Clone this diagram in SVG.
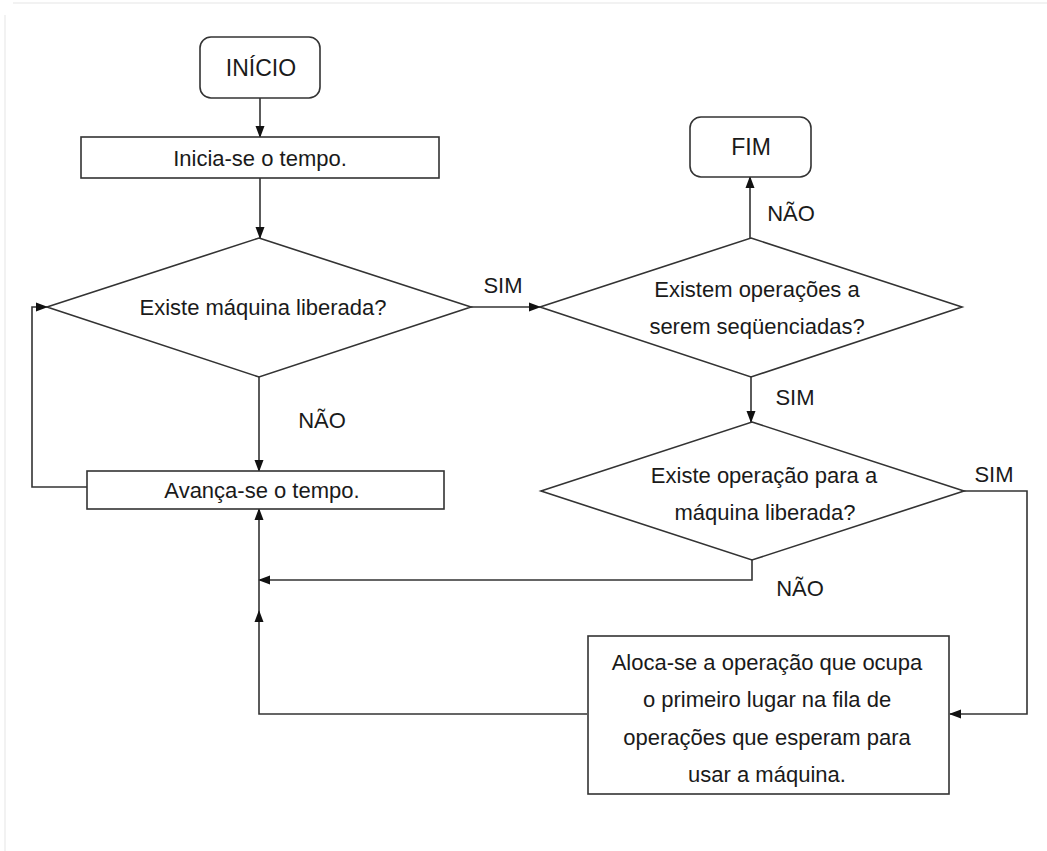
<svg xmlns="http://www.w3.org/2000/svg" width="1047" height="851" viewBox="0 0 1047 851">
<defs>
<marker id="arr" markerUnits="userSpaceOnUse" markerWidth="12" markerHeight="12" viewBox="0 0 12 12" refX="11" refY="6" orient="auto">
<path d="M0,1.5 L12,6 L0,10.5 Z" fill="#111"/>
</marker>
<style>
.shape{fill:#fff;stroke:#333;stroke-width:1.6}
.line{fill:none;stroke:#333;stroke-width:1.6}
.t{font-family:"Liberation Sans",Arial,sans-serif;font-size:22px;fill:#1a1a1a;text-anchor:middle;dominant-baseline:central}
.frame{stroke:#eeeeee;stroke-width:1.5;fill:none}
</style>
</defs>
<rect width="1047" height="851" fill="#fff"/>
<path class="frame" d="M13 3 H1047 M5 15 V851"/>

<g id="connectors">
<path class="line" d="M260 98 V137" marker-end="url(#arr)"/>
<path class="line" d="M260 178 V238" marker-end="url(#arr)"/>
<path class="line" d="M471 307 H540" marker-end="url(#arr)"/>
<text class="t" x="503" y="285">SIM</text>
<path class="line" d="M259 377 V471" marker-end="url(#arr)"/>
<text class="t" x="322" y="420">NÃO</text>
<path class="line" d="M87 487 H32 V307 H47" marker-end="url(#arr)"/>
<path class="line" d="M750 238 V177" marker-end="url(#arr)"/>
<text class="t" x="791" y="213">NÃO</text>
<path class="line" d="M751 377 V422" marker-end="url(#arr)"/>
<text class="t" x="795" y="397">SIM</text>
<path class="line" d="M752 560 V580 H259" marker-end="url(#arr)"/>
<text class="t" x="800" y="588">NÃO</text>
<path class="line" d="M964 491 H1027 V714 H950" marker-end="url(#arr)"/>
<text class="t" x="994" y="474">SIM</text>
<path class="line" d="M587 714 H259 V611" marker-end="url(#arr)"/>
<path class="line" d="M259 611 V509" marker-end="url(#arr)"/>
</g>

<g id="inicio">
<rect class="shape" x="200" y="37" width="120" height="61" rx="11"/>
<text class="t" x="261" y="68" style="font-size:23px">INÍCIO</text>
</g>
<g id="inicia">
<rect class="shape" x="81" y="137" width="358" height="41"/>
<text class="t" x="260" y="158">Inicia-se o tempo.</text>
</g>
<g id="decisao1">
<polygon class="shape" points="259,238 471,307 259,377 47,307"/>
<text class="t" x="263" y="307">Existe máquina liberada?</text>
</g>
<g id="avanca">
<rect class="shape" x="87" y="471" width="357" height="38"/>
<text class="t" x="262" y="490">Avança-se o tempo.</text>
</g>
<g id="fim">
<rect class="shape" x="690" y="117" width="121" height="60" rx="11"/>
<text class="t" x="751" y="147" style="font-size:23px">FIM</text>
</g>
<g id="decisao2">
<polygon class="shape" points="751,238 962,307 751,377 540,307"/>
<text class="t" x="757" y="289">Existem operações a</text>
<text class="t" x="757" y="326">serem seqüenciadas?</text>
</g>
<g id="decisao3">
<polygon class="shape" points="752,422 964,491 752,560 541,491"/>
<text class="t" x="764" y="475">Existe operação para a</text>
<text class="t" x="765" y="512">máquina liberada?</text>
</g>
<g id="aloca">
<rect class="shape" x="588" y="636" width="361" height="158"/>
<text class="t" x="767" y="662">Aloca-se a operação que ocupa</text>
<text class="t" x="767" y="699">o primeiro lugar na fila de</text>
<text class="t" x="767" y="737">operações que esperam para</text>
<text class="t" x="767" y="774">usar a máquina.</text>
</g>
</svg>
